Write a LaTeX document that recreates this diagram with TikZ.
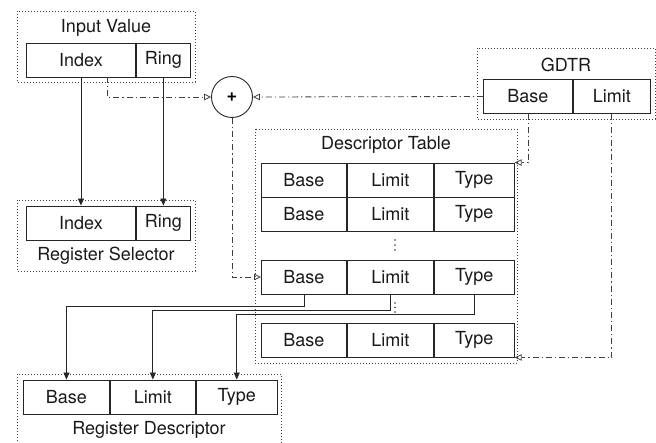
\documentclass[tikz,border=0pt]{standalone}
\usepackage{fontspec}
\setmainfont{TeX Gyre Heros}
\usetikzlibrary{arrows.meta}
\begin{document}
\begin{tikzpicture}[x=1pt,y=-1pt,
  txt/.style={font=\fontsize{18}{20}\selectfont, text=black!90},
  cell/.style={txt, draw=black!85, line width=0.9pt, inner sep=0pt, minimum height=34pt, anchor=west},
  lbl/.style={txt, inner sep=0pt},
  grp/.style={draw=black!75, line width=0.9pt, dash pattern=on 0.9pt off 2.1pt},
  sol/.style={draw=black!85, line width=0.9pt, -{Triangle[length=7pt,width=6pt]}},
  dd/.style={draw=black!75, line width=0.8pt, dash pattern=on 6pt off 3pt on 1.2pt off 3pt, -{Triangle[open,length=7pt,width=6.5pt]}},
]
\useasboundingbox (0,0) rectangle (656,443);

% group frames
\draw[grp] (17,11) rectangle (195,82);
\draw[grp] (17,200) rectangle (195,271);
\draw[grp] (477,48) rectangle (655,119);
\draw[grp] (255,129) rectangle (517,363);
\draw[grp] (17,450) -- (17,374) -- (281,374) -- (281,450);

% titles
\node[lbl] (tiv) at (106,28) {Input Value};
\node[lbl] (trs) at (106,256) {Register Selector};
\node[lbl] (tg) at (566,65) {GDTR};
\node[lbl] (tdt) at (386,145) {Descriptor Table};
\node[lbl] (trd) at (149,430) {Register Descriptor};

% Input Value
\node[cell, minimum width=109pt] (ivi) at (26,60) {Index};
\node[cell, minimum width=54pt] (ivr) at (ivi.east) {Ring};
% Register Selector
\node[cell, minimum width=109pt] (rsi) at (26,223) {Index};
\node[cell, minimum width=54pt] (rsr) at (rsi.east) {Ring};
% GDTR
\node[cell, minimum width=89pt] (gb) at (483,96.5) {Base};
\node[cell, minimum width=77pt] (gl) at (gb.east) {Limit};

% Descriptor table rows
\foreach \r/\y in {1/180,2/214,3/277,4/340}{
  \node[cell, minimum width=85pt] (r\r b) at (261,\y) {Base};
  \node[cell, minimum width=86pt] (r\r l) at (r\r b.east) {Limit};
  \node[cell, minimum width=80pt] (r\r t) at (r\r l.east) {Type};
}
% Register Descriptor
\node[cell, minimum width=86pt] (rdb) at (23,397) {Base};
\node[cell, minimum width=85pt] (rdl) at (rdb.east) {Limit};
\node[cell, minimum width=81pt] (rdt) at (rdl.east) {Type};

% adder
\node[draw=black!85, line width=0.9pt, circle, minimum size=41pt, inner sep=0pt,
      font=\fontsize{18}{20}\bfseries] (plus) at (232,97) {+};

% ellipses
\foreach \y in {240,245,250,303,307.5,312}{
  \fill[black!80] (395,\y) circle (0.8pt);
}

% connectors
\draw[sol] (ivi.south) -- (rsi.north);
\draw[sol] (ivr.south) -- (rsr.north);
\coordinate (tap) at (107,77);
\draw[dd] (tap) |- (plus.west);
\draw[dd] (gb.west) -- (plus.east);
\draw[dd] (plus.south) |- (r3b.west);
\draw[dd] (gb.south) |- (r1t.north east);
\draw[dd] (gl.south) |- (r4t.south east);
\draw[sol] (r3b.south) -- ++(0,12) -| (rdb.north);
\draw[sol] (r3l.south) -- ++(0,16.5) -| (rdl.north);
\draw[sol] (r3t.south) -- ++(0,20) -| (rdt.north);
\end{tikzpicture}
\end{document}
